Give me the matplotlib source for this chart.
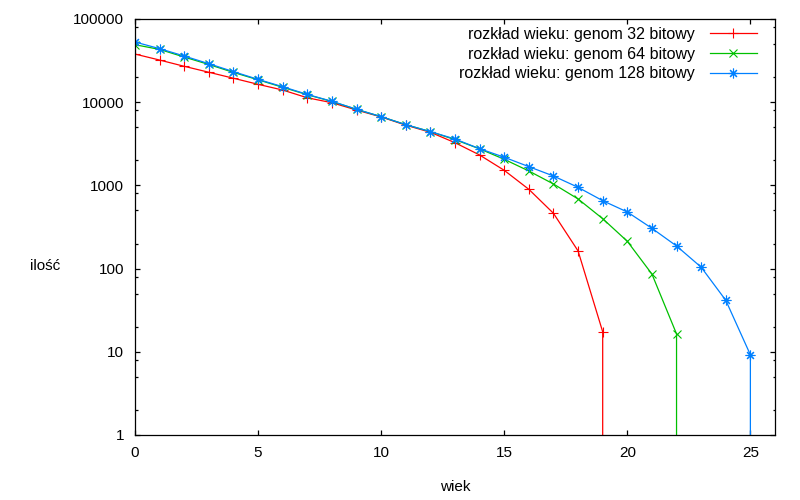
import numpy as np
import matplotlib
matplotlib.use('Agg')
from matplotlib import pyplot as plt
from matplotlib.ticker import LogLocator, FixedLocator, NullFormatter

plt.rcParams['font.family'] = ['Liberation Sans', 'DejaVu Sans']

# age distributions
wiek32 = [0, 1, 2, 3, 4, 5, 6, 7, 8, 9, 10, 11, 12, 13, 14, 15, 16, 17, 18, 19]
ilosc32 = [37900, 32100, 27000, 22900, 19400, 16400, 14000, 11300, 9860, 8050,
           6650, 5300, 4350, 3260, 2320, 1518, 897, 462, 163, 17.4]

wiek64 = [0, 1, 2, 3, 4, 5, 6, 7, 8, 9, 10, 11, 12, 13, 14, 15, 16, 17, 18, 19,
          20, 21, 22]
ilosc64 = [49100, 43100, 34900, 28400, 22800, 18600, 15100, 12300, 10200, 8200,
           6700, 5370, 4430, 3550, 2750, 2060, 1490, 1040, 687, 398,
           213, 86, 16.4]

wiek128 = [0, 1, 2, 3, 4, 5, 6, 7, 8, 9, 10, 11, 12, 13, 14, 15, 16, 17, 18, 19,
           20, 21, 22, 23, 24, 25]
ilosc128 = [52900, 44000, 35900, 29000, 23300, 18800, 15350, 12400, 10250, 8220,
            6700, 5370, 4430, 3610, 2760, 2180, 1680, 1297, 948, 655,
            479, 305, 187, 104, 41.6, 9.2]

etykiety = ['rozkład wieku: genom 32 bitowy',
            'rozkład wieku: genom 64 bitowy',
            'rozkład wieku: genom 128 bitowy']
kolory = ['#ff0000', '#00c000', '#0080ff']

fig = plt.figure(figsize=(8, 5), dpi=100)
ax = fig.add_axes([135/800, 65/500, 640/800, 416/500])

serie = [(wiek32, ilosc32, '+', 7), (wiek64, ilosc64, 'x', 6), (wiek128, ilosc128, (8, 2, 0), 7)]
for (x, y, m, ms), lab, c in zip(serie, etykiety, kolory):
    # gnuplot drops to zero after the last age -> vertical line to the bottom
    xs = list(x) + [x[-1]]
    ys = list(y) + [0]
    ax.plot(xs, ys, color=c, lw=0.9, marker=m, ms=ms, mew=0.8,
            markevery=list(range(len(x))), label=lab)

ax.set_yscale('log', nonpositive='clip')
ax.set_xlim(0, 26)
ax.set_ylim(1, 100000)
ax.xaxis.set_major_locator(FixedLocator([0, 5, 10, 15, 20, 25]))
ax.yaxis.set_major_locator(FixedLocator([1, 10, 100, 1000, 10000, 100000]))
ax.yaxis.set_major_formatter(matplotlib.ticker.FuncFormatter(lambda v, p: '%d' % round(v)))
ax.yaxis.set_minor_locator(LogLocator(base=10, subs=(2, 5, 8)))
ax.yaxis.set_minor_formatter(NullFormatter())

ax.tick_params(which='both', direction='in', top=True, right=True, labelsize=11, pad=8)
ax.tick_params(which='major', length=3.8, width=0.9)
ax.tick_params(which='minor', length=1.8, width=0.9)
for s in ax.spines.values():
    s.set_linewidth(0.9)

ax.set_xlabel('wiek', fontsize=11, labelpad=14)
ax.set_ylabel('ilość', fontsize=11, rotation=0, labelpad=0)
ax.yaxis.set_label_coords(-0.14, 0.39)

leg = ax.legend(loc='upper right', frameon=False, markerfirst=False, fontsize=11.5,
                handlelength=3.0, labelspacing=0.3, borderaxespad=0.3,
                handletextpad=0.9, bbox_to_anchor=(0.99, 1.008))

fig.savefig('out.png', dpi=100)
